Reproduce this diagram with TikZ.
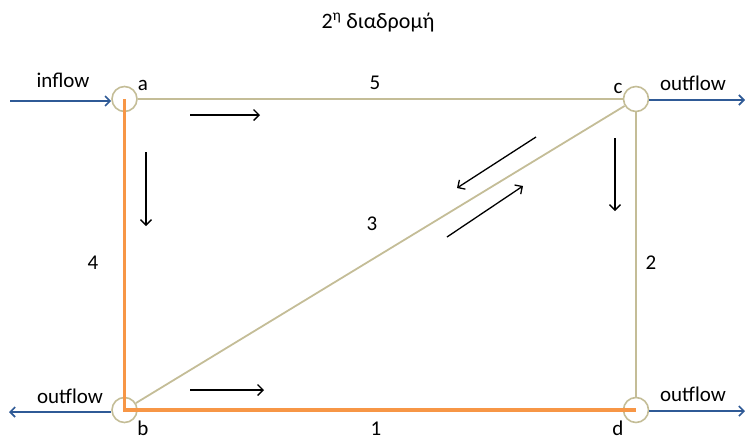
\documentclass[tikz,border=0pt]{standalone}
\usepackage{fontspec}
\setmainfont{Carlito}
\usetikzlibrary{arrows.meta}
\definecolor{tan}{HTML}{C4BD97}
\definecolor{orng}{HTML}{F79646}
\definecolor{flowblue}{HTML}{2F5A96}
\tikzset{
  vertex/.style={circle,draw=tan,line width=1.6pt,fill=white,minimum size=25pt,inner sep=0pt},
  tanedge/.style={draw=tan,line width=1.8pt},
  orangeedge/.style={draw=orng,line width=3.6pt},
  flow/.style={draw=flowblue,line width=2pt,-{Straight Barb[length=5pt,width=10pt,line width=1.6pt]}},
  dir/.style={draw=black,line width=1.3pt,-{Straight Barb[length=5.5pt,width=11pt,line width=1.3pt]}},
  lbl/.style={font=\fontsize{21}{24}\selectfont,inner sep=0pt,anchor=base},
  num/.style={font=\fontsize{21}{24}\selectfont,inner sep=0pt}
}
\begin{document}
\begin{tikzpicture}[x=1pt,y=-1pt]
\useasboundingbox (0,0) rectangle (745,440);
% title
\node[lbl,font=\fontsize{22}{26}\selectfont] (title) at (378,28) {2\textsuperscript{η} διαδρομή};
% vertices
\node[vertex] (a) at (124.5,99) {};
\node[vertex] (c) at (636,99) {};
\node[vertex] (b) at (124.5,410) {};
\node[vertex] (d) at (636,410) {};
% tan edges
\draw[tanedge] (a) -- (c);
\draw[tanedge] (c) -- (d);
\draw[tanedge] (b) -- (c);
% orange path
\draw[orangeedge] (a.center) -- (b.center) -- (d.center);
% flows
\coordinate (inL) at (10,101);
\coordinate (outC) at (745,100);
\coordinate (outB) at (9,412);
\coordinate (outD) at (745,411);
\draw[flow] (inL) -- (a.west|-inL);
\draw[flow] (c.east|-outC) -- (outC);
\draw[flow] (b.west|-outB) -- (outB);
\draw[flow] (d.east|-outD) -- (outD);
\node[lbl] (tin) at (63,87) {inflow};
\node[lbl] (tc) at (693,90) {outflow};
\node[lbl] (tb) at (70,403) {outflow};
\node[lbl] (td) at (693,401) {outflow};
% vertex names
\node[lbl] (la) at (143,90) {a};
\node[lbl] (lc) at (618,93) {c};
\node[lbl] (lb) at (143,435.5) {b};
\node[lbl] (ld) at (618,435.5) {d};
% edge weights
\node[num] (w5) at (375,82.5) {5};
\node[lbl] (w1) at (376,435.5) {1};
\node[num] (w4) at (93,262.5) {4};
\node[num] (w3) at (372,223.5) {3};
\node[num] (w2) at (651,262.5) {2};
% direction arrows
\coordinate (p1s) at (190,115); \coordinate (p1e) at (260,115);
\coordinate (p2s) at (146,152); \coordinate (p2e) at (146,226);
\coordinate (p3s) at (190,390); \coordinate (p3e) at (264,390);
\coordinate (p4s) at (615,138); \coordinate (p4e) at (615,211);
\coordinate (p5s) at (536,137); \coordinate (p5e) at (457,188);
\coordinate (p6s) at (447,237); \coordinate (p6e) at (523,186);
\draw[dir] (p1s) -- (p1e);
\draw[dir] (p2s) -- (p2e);
\draw[dir] (p3s) -- (p3e);
\draw[dir] (p4s) -- (p4e);
\draw[dir] (p5s) -- (p5e);
\draw[dir] (p6s) -- (p6e);
\end{tikzpicture}
\end{document}
